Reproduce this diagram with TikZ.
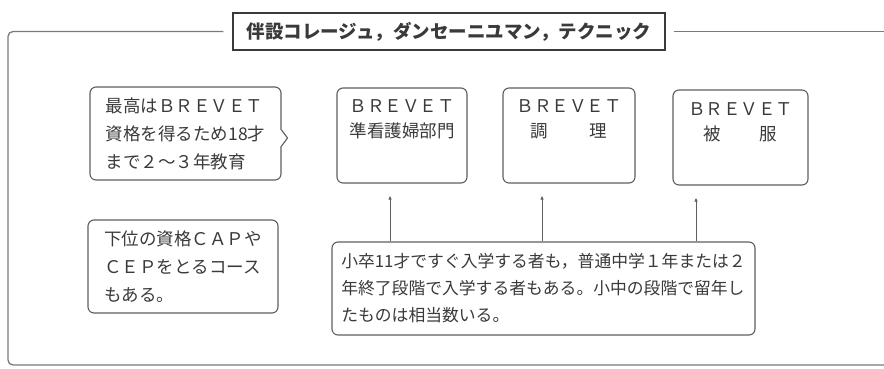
\documentclass[tikz,border=0pt]{standalone}
\usepackage{fontspec}
\setmainfont{Noto Sans CJK JP}
\usetikzlibrary{arrows.meta,calc}
\definecolor{ink}{HTML}{3A3A3A}
\definecolor{edge}{HTML}{5E5E5E}
\definecolor{framec}{HTML}{7A7A7A}
\begin{document}
\begin{tikzpicture}[x=1pt,y=-1pt,
  tbox/.style={draw=edge, line width=1.1pt, rounded corners=6pt, inner sep=0pt,
    align=left, text=ink, font=\fontsize{17.5}{28}\selectfont},
  bbox/.style={draw=edge, line width=1.1pt, rounded corners=6pt, inner sep=0pt},
  btext/.style={align=center, text=ink, inner sep=0pt, font=\fontsize{17.5}{25}\selectfont},
  titlebox/.style={draw=ink, line width=1.4pt, inner sep=0pt, text=ink,
    minimum width=432pt, minimum height=37pt, font=\fontsize{18.5}{22}\selectfont\bfseries},
  framestyle/.style={draw=framec, line width=1.3pt},
  arr/.style={draw=edge, line width=1pt, -{Latex[length=4pt,width=3.5pt]}, shorten >=12pt}]
\useasboundingbox (0,0) rectangle (884,368);
\fill[white] (0,0) rectangle (884,368);

% title and outer frame
\node[titlebox] (title) at (449,31.5) {伴設コレージュ，ダンセーニユマン，テクニック};
\draw[framestyle, rounded corners=5pt] ($(title.west)+(-9,0)$) -- (8,31.5) -- (8,365) -- (884,365);
\draw[framestyle] ($(title.east)+(8,0)$) -- (884,31.5);

% left boxes
\node[tbox, minimum width=191pt, minimum height=93pt] (n1) at (185.5,133.5)
  {最高はＢＲＥＶＥＴ\\資格を得るため18才\\まで２～３年教育};
\fill[white] ($(n1.east)+(-1.5,-3.5)$) rectangle ($(n1.east)+(1.5,12.5)$);
\draw[draw=edge, line width=1.1pt, line join=round] ($(n1.east)+(0,-3.5)$) -- ($(n1.east)+(6,4.5)$) -- ($(n1.east)+(0,12.5)$);

\node[tbox, minimum width=190pt, minimum height=93pt] (n2) at (183,266.5)
  {下位の資格ＣＡＰや\\ＣＥＰをとるコース\\もある。};

% BREVET boxes
\node[bbox, minimum width=130pt, minimum height=95pt] (b1) at (402,135.5) {};
\node[bbox, minimum width=132pt, minimum height=95pt] (b2) at (569,135.5) {};
\node[bbox, minimum width=135pt, minimum height=95pt] (b3) at (740.5,137.5) {};
\node[btext] (t1) at ($(b1.north)+(0,31.5)$) {ＢＲＥＶＥＴ\\準看護婦部門};
\node[btext] (t2) at ($(b2.north)+(0,31.5)$) {ＢＲＥＶＥＴ\\調\hspace{2.4em}理};
\node[btext] (t3) at ($(b3.north)+(0,33)$) {ＢＲＥＶＥＴ\\被\hspace{2.2em}服};

% bottom box
\node[tbox, minimum width=423pt, minimum height=93pt,
  font=\fontsize{16.8}{27}\selectfont] (bot) at (543.5,288.5)
  {小卒11才ですぐ入学する者も，普通中学１年または２\\年終了段階で入学する者もある。小中の段階で留年し\\たものは相当数いる。};

% arrows
\coordinate (ax1) at (390,0);
\coordinate (ax2) at (542,0);
\coordinate (ax3) at (696,0);
\draw[arr] (bot.north -| ax1) -- (b1.south -| ax1);
\draw[arr] (bot.north -| ax2) -- (b2.south -| ax2);
\draw[arr] (bot.north -| ax3) -- (b3.south -| ax3);
\end{tikzpicture}
\end{document}
